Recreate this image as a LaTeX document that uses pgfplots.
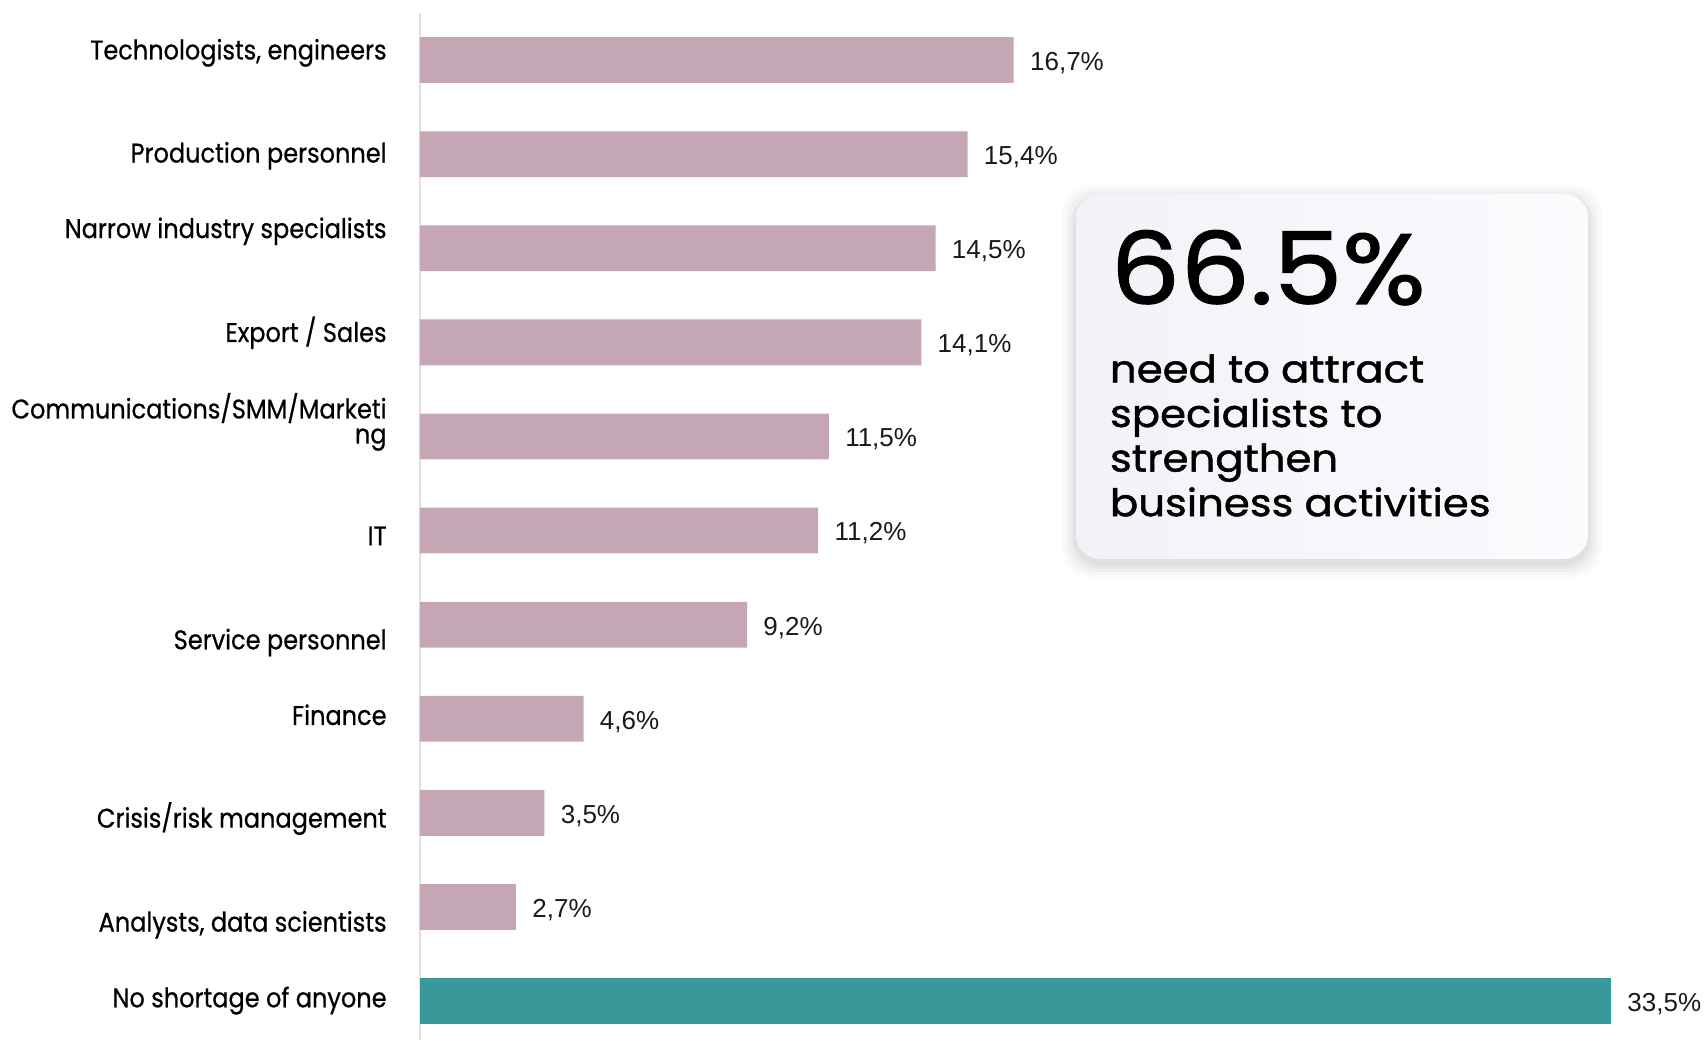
\documentclass[border=0pt]{standalone}
\usepackage{fontspec}
\setmainfont{Poppins}
\newfontfamily\labfont{Poppins}[FakeStretch=0.89, FakeBold=0.6]
\newfontfamily\calfont{Poppins}[FakeStretch=1.1, FakeBold=1.2]
\newfontfamily\valfont{Liberation Sans}
\usepackage{pgfplots}
\pgfplotsset{compat=1.18}
\usetikzlibrary{calc}
\definecolor{mauve}{HTML}{C5A6B4}
\definecolor{tealbar}{HTML}{38989A}
\definecolor{boxA}{HTML}{F1F3F8}
\definecolor{boxB}{HTML}{FAFBFD}
\newcommand{\yl}[2]{\raisebox{\dimexpr #1-4.7pt\relax}[0pt][0pt]{#2}}
\begin{document}
\begin{tikzpicture}
\useasboundingbox (-210pt,0pt) rectangle (644pt,520pt);
\begin{axis}[
  at={(0pt,0pt)}, anchor=south west,
  scale only axis, width=595.5pt, height=513.5pt,
  xbar, bar width=22.9pt, bar shift=0pt,
  xmin=0, xmax=33.5,
  ymin=-0.5, ymax=10.414, y dir=reverse,
  axis x line=none,
  axis y line=left,
  y axis line style={draw=black!12, line width=1pt, -},
  ytick={0,...,10},
  yticklabels={
    \yl{5pt}{Technologists, engineers},
    \yl{0.5pt}{Production personnel},
    \yl{9.8pt}{Narrow industry specialists},
    \yl{4.9pt}{Export / Sales},
    {\raisebox{3.4pt}[0pt][0pt]{\begin{tabular}{@{}r@{}}Communications/SMM/Marketi\\[-1.5pt]ng\end{tabular}}},
    \yl{-2.7pt}{IT},
    \yl{-7.6pt}{Service personnel},
    \yl{1.6pt}{Finance},
    \yl{-2.7pt}{Crisis/risk management},
    \yl{-7.6pt}{Analysts, data scientists},
    \yl{1.6pt}{No shortage of anyone}},
  yticklabel style={font=\labfont\fontsize{13.5}{14}\selectfont, anchor=east, inner sep=0pt, xshift=-16.5pt},
  major tick length=0pt,
  clip=false,
  point meta=explicit symbolic,
  nodes near coords,
  nodes near coords style={font=\valfont\fontsize{13}{13}\selectfont, anchor=base west, inner sep=0pt, xshift=8pt, yshift=-5.2pt, text=black!90},
]
\addplot[draw=none, fill=mauve] coordinates {
  (16.7,0) [16,7\%]
  (15.4,1) [15,4\%]
  (14.5,2) [14,5\%]
  (14.1,3) [14,1\%]
  (11.5,4) [11,5\%]
  (11.2,5) [11,2\%]
  (9.2,6) [9,2\%]
  (4.6,7) [4,6\%]
  (3.5,8) [3,5\%]
  (2.7,9) [2,7\%]
};
\addplot[draw=none, fill=tealbar] coordinates {
  (33.5,10) [33,5\%]
};
\end{axis}
% callout box with soft shadow
\foreach \s/\o in {7pt/0.015,5.5pt/0.02,4pt/0.025,2.5pt/0.03,1.2pt/0.035}{
  \fill[black, opacity=\o, rounded corners=14pt]
    ($(328pt,240.5pt)+(-\s,-\s-2.5pt)$) rectangle ($(584pt,423pt)+(\s,\s-2.5pt)$);
}
\shade[left color=boxA, right color=boxB, rounded corners=12pt]
  (328pt,240.5pt) rectangle (584pt,423pt);
\node[anchor=base west, inner sep=0pt, font=\calfont\fontsize{50}{52}\selectfont] at (345pt,368pt) {66.5\%};
\node[anchor=base west, inner sep=0pt, font=\calfont\fontsize{19}{22.3}\selectfont] at (344.8pt,328.8pt) {need to attract};
\node[anchor=base west, inner sep=0pt, font=\calfont\fontsize{19}{22.3}\selectfont] at (344.8pt,306.5pt) {specialists to};
\node[anchor=base west, inner sep=0pt, font=\calfont\fontsize{19}{22.3}\selectfont] at (344.8pt,284.2pt) {strengthen};
\node[anchor=base west, inner sep=0pt, font=\calfont\fontsize{19}{22.3}\selectfont] at (344.8pt,261.9pt) {business activities};
\end{tikzpicture}
\end{document}
